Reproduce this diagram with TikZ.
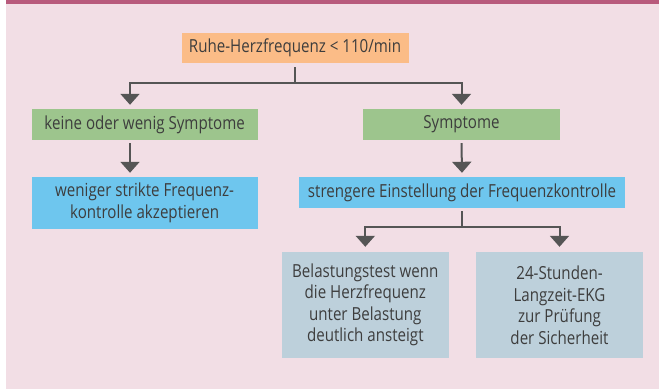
\documentclass[tikz,border=0pt]{standalone}
\usepackage{fontspec}
\setmainfont[FakeStretch=0.84]{Open Sans}
\usetikzlibrary{arrows.meta}
\definecolor{barc}{HTML}{B85A7C}
\definecolor{bgc}{HTML}{F2DEE5}
\definecolor{orc}{HTML}{FBBC87}
\definecolor{grc}{HTML}{9DC58D}
\definecolor{blc}{HTML}{6EC6EE}
\definecolor{gbc}{HTML}{BDD0DB}
\definecolor{lnc}{HTML}{555555}
\definecolor{txc}{HTML}{3D3D3D}
\tikzset{
  box/.style={inner sep=0pt, align=center, text=txc,
    font=\fontsize{18}{21.5}\selectfont},
  conn/.style={draw=lnc, line width=2pt},
  arr/.style={conn, -{Triangle[width=19pt,length=11pt]}},
}
\begin{document}
\begin{tikzpicture}[x=1pt,y=-1pt]
\useasboundingbox (0,0) rectangle (659,389);
\fill[white] (0,0) rectangle (659,389);
\fill[bgc] (6,0) rectangle (659,389);
\fill[barc] (6,0) rectangle (659,4);

\node[box, fill=orc, minimum width=227pt, minimum height=30pt] (o) at (295,48) {Ruhe-Herzfrequenz < 110/min};
\node[box, fill=grc, minimum width=226pt, minimum height=31pt] (gl) at (144.6,124.5) {keine oder wenig Symptome};
\node[box, fill=grc, minimum width=197pt, minimum height=31pt] (gr) at (461.5,124.5) {Symptome};
\node[box, fill=blc, minimum width=226pt, minimum height=52pt] (bl) at (144.6,203) {weniger strikte Frequenz-\\kontrolle akzeptieren};
\node[box, fill=blc, minimum width=326pt, minimum height=31pt] (br) at (462,192.5) {strengere Einstellung der Frequenzkontrolle};
\node[box, fill=gbc, minimum width=167pt, minimum height=106pt] (ql) at (365.3,305) {Belastungstest wenn\\die Herzfrequenz\\unter Belastung\\deutlich ansteigt};
\node[box, fill=gbc, minimum width=167pt, minimum height=106pt] (qr) at (559.5,305) {24-Stunden-\\Langzeit-EKG\\zur Prüfung\\der Sicherheit};

\draw[conn] ([yshift=-4pt]o.south) -- ([yshift=-20pt]o.south) coordinate (j1);
\draw[arr] (j1) -| ([xshift=-14.6pt,yshift=4pt]gl.north);
\draw[arr] (j1) -| ([yshift=4pt]gr.north);

\draw[arr] ([xshift=-14.6pt,yshift=-3pt]gl.south) -- ([xshift=-14.6pt,yshift=4pt]bl.north);
\draw[arr] ([yshift=-3pt]gr.south) -- ([yshift=4pt]br.north);

\draw[conn] ([yshift=-3pt]br.south) -- ([yshift=-19pt]br.south) coordinate (j2);
\draw[arr] (j2) -| ([yshift=5pt]ql.north);
\draw[arr] (j2) -| ([yshift=5pt]qr.north);
\end{tikzpicture}
\end{document}
